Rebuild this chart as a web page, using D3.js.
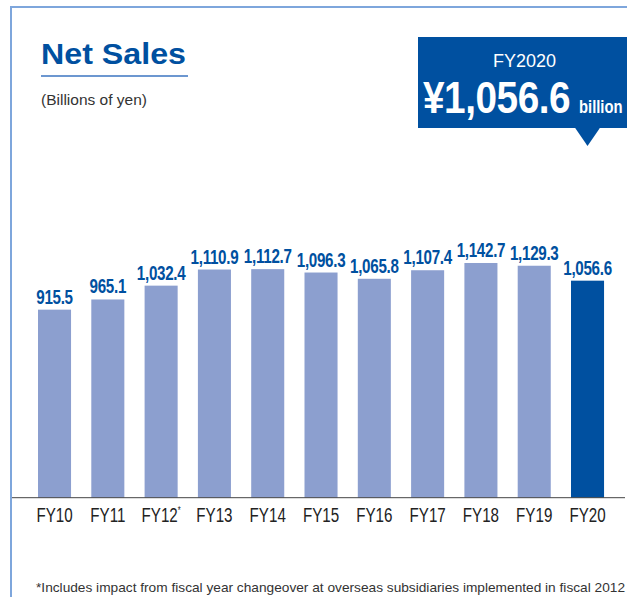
<!DOCTYPE html>
<html>
<head>
<meta charset="utf-8">
<script src="https://cdn.jsdelivr.net/npm/d3@7/dist/d3.min.js"></script>
<style>
  html, body { margin: 0; padding: 0; background: #fff; }
  svg { display: block; font-family: "Liberation Sans", Arial, Helvetica, sans-serif; }
</style>
</head>
<body>
<svg id="chart" width="627" height="597"></svg>
<script>
const categories = ["FY10","FY11","FY12","FY13","FY14","FY15","FY16","FY17","FY18","FY19","FY20"];
const values = [915.5, 965.1, 1032.4, 1110.9, 1112.7, 1096.3, 1065.8, 1107.4, 1142.7, 1129.3, 1056.6];
const valueLabels = ["915.5","965.1","1,032.4","1,110.9","1,112.7","1,096.3","1,065.8","1,107.4","1,142.7","1,129.3","1,056.6"];
const footnoteCategories = ["FY12"];
const highlightCategory = "FY20";
const title = "Net Sales";
const unitLabel = "(Billions of yen)";
const calloutYear = "FY2020";
const calloutValue = "¥1,056.6";
const calloutUnit = "billion";
const footnote = "*Includes impact from fiscal year changeover at overseas subsidiaries implemented in fiscal 2012";

const svg = d3.select("#chart");
const BLUE = "#0050a0";
const LIGHT = "#8c9fcf";
const FRAME = "#7ea6dc";

// frame
svg.append("line").attr("x1", 10).attr("x2", 627).attr("y1", 7).attr("y2", 7)
  .attr("stroke", FRAME).attr("stroke-width", 2);
svg.append("line").attr("x1", 11).attr("x2", 11).attr("y1", 6).attr("y2", 597)
  .attr("stroke", FRAME).attr("stroke-width", 2);

// title
svg.append("text").attr("x", 41).attr("y", 63.5)
  .attr("font-size", 30).attr("font-weight", "bold").attr("fill", BLUE)
  .attr("textLength", 145).attr("lengthAdjust", "spacingAndGlyphs")
  .text(title);
svg.append("line").attr("x1", 41).attr("x2", 188).attr("y1", 76).attr("y2", 76)
  .attr("stroke", "#3b74c0").attr("stroke-width", 1.6);
svg.append("text").attr("x", 41).attr("y", 105)
  .attr("font-size", 15).attr("fill", "#333")
  .attr("textLength", 106).attr("lengthAdjust", "spacingAndGlyphs")
  .text(unitLabel);

// scales
const x = d3.scaleBand().domain(categories).range([11.35, 630.7]).paddingInner(0.38).paddingOuter(0.5);
const y = d3.scaleLinear().domain([0, 1200]).range([497.7, 497.7 - 1200 * 0.2054]);

const data = categories.map((c, i) => ({ cat: c, v: values[i], label: valueLabels[i] }));

// bars
svg.append("g").selectAll("rect").data(data).join("rect")
  .attr("x", d => x(d.cat))
  .attr("width", x.bandwidth())
  .attr("y", d => y(d.v))
  .attr("height", d => y(0) - y(d.v))
  .attr("fill", d => d.cat === highlightCategory ? BLUE : LIGHT);

// value labels
svg.append("g").selectAll("text").data(data).join("text")
  .attr("transform", d => `translate(${x(d.cat) + x.bandwidth() / 2},${y(d.v) - 6}) scale(0.76,1)`)
  .attr("text-anchor", "middle")
  .attr("font-size", 20).attr("font-weight", "bold").attr("fill", BLUE)
  .attr("letter-spacing", -0.4)
  .text(d => d.label);

// axis
const axis = d3.axisBottom(x).tickSize(0).tickPadding(0);
const gAxis = svg.append("g").attr("transform", `translate(0,${y(0)})`).call(axis);
gAxis.select(".domain").remove();
gAxis.selectAll(".tick text").remove();
gAxis.selectAll(".tick").each(function(d) {
  const t = d3.select(this).append("text")
    .attr("transform", "translate(0,24.5) scale(0.74,1)")
    .attr("text-anchor", "middle")
    .attr("font-size", 20.5).attr("fill", "#222")
    .attr("font-family", "Liberation Sans, Arial, sans-serif");
  t.append("tspan").text(d);
  if (footnoteCategories.includes(d)) {
    t.append("tspan").attr("font-size", 10).attr("dy", -8).text("*");
  }
});
svg.append("line").attr("x1", 12).attr("x2", 625).attr("y1", y(0)).attr("y2", y(0))
  .attr("stroke", "#444").attr("stroke-width", 1);

// callout
const cx = x(highlightCategory) + x.bandwidth() / 2;
svg.append("rect").attr("x", 418).attr("y", 37).attr("width", 220).attr("height", 91).attr("fill", BLUE);
svg.append("path").attr("d", `M${cx - 13},127 L${cx + 13},127 L${cx},146 Z`).attr("fill", BLUE);
svg.append("text").attr("x", 524.5).attr("y", 66.5).attr("text-anchor", "middle")
  .attr("font-size", 18).attr("fill", "#fff").text(calloutYear);
svg.append("text").attr("transform", "translate(423,113) scale(0.88,1)")
  .attr("font-size", 44).attr("font-weight", "bold").attr("fill", "#fff")
  .attr("letter-spacing", -0.5)
  .text(calloutValue);
svg.append("text").attr("transform", "translate(579,113) scale(0.8,1)")
  .attr("font-size", 18.5).attr("font-weight", "bold").attr("fill", "#fff")
  .text(calloutUnit);

// footnote
svg.append("text").attr("x", 36).attr("y", 592)
  .attr("font-size", 13).attr("fill", "#333")
  .attr("textLength", 589).attr("lengthAdjust", "spacingAndGlyphs")
  .text(footnote);
</script>
</body>
</html>
